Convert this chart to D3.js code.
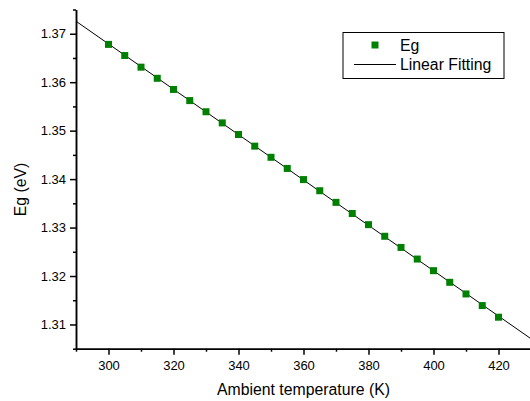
<!DOCTYPE html>
<meta charset="utf-8">
<script src="https://cdn.jsdelivr.net/npm/d3@7/dist/d3.min.js"></script>
<head>
<style>
    body { margin: 0; background: #fff; }
    text { font-family: "Liberation Sans", Arial, sans-serif; fill: #000; }
</style>
</head>
<body>
<script>

    // temperature (K) and band gap (eV)
    var temps = [300, 305, 310, 315, 320, 325, 330, 335, 340, 345, 350, 355, 360,
                 365, 370, 375, 380, 385, 390, 395, 400, 405, 410, 415, 420];
    var eg = [1.3678, 1.3655, 1.3631, 1.3608, 1.3585, 1.3562, 1.3539, 1.3516, 1.3492,
              1.3468, 1.3445, 1.3422, 1.3399, 1.3376, 1.3352, 1.3329, 1.3306, 1.3282,
              1.3259, 1.3235, 1.3211, 1.3187, 1.3163, 1.3139, 1.3115];

    var xMajor = [300, 320, 340, 360, 380, 400, 420];
    var xMinor = [290, 310, 330, 350, 370, 390, 410, 430];
    var yMajor = [1.31, 1.32, 1.33, 1.34, 1.35, 1.36, 1.37];
    var yMinor = [1.305, 1.315, 1.325, 1.335, 1.345, 1.355, 1.365, 1.375];

    var W = 530, H = 401;
    var pLeft = 76, pRight = 531, pTop = 9.5, pBottom = 348.7;

    var svg = d3.select("body").append("svg")
        .attr("width", W)
        .attr("height", H);

    var x = d3.scaleLinear().domain([290, 430]).range([pLeft, pRight]);
    var y = d3.scaleLinear().domain([1.305, 1.375]).range([pBottom, pTop]);

    svg.append("defs").append("clipPath")
        .attr("id", "plotClip")
        .append("rect")
        .attr("x", pLeft)
        .attr("y", pTop)
        .attr("width", pRight - pLeft)
        .attr("height", pBottom - pTop);

    // least squares fit of the data
    var mx = d3.mean(temps), my = d3.mean(eg);
    var sxy = 0, sxx = 0;
    temps.forEach(function(t, i) {
        sxy += (t - mx) * (eg[i] - my);
        sxx += (t - mx) * (t - mx);
    });
    var slope = sxy / sxx;
    var icpt = my - slope * mx;
    var fitT = x.domain();

    svg.append("g")
        .attr("clip-path", "url(#plotClip)")
        .append("line")
        .attr("x1", x(fitT[0]))
        .attr("y1", y(icpt + slope * fitT[0]))
        .attr("x2", x(fitT[1]))
        .attr("y2", y(icpt + slope * fitT[1]))
        .style("stroke", "#000")
        .style("stroke-width", 1);

    var sq = 7;
    svg.append("g").selectAll("rect")
        .data(temps)
        .enter()
        .append("rect")
        .attr("x", function(d) { return x(d) - sq / 2; })
        .attr("y", function(d, i) { return y(eg[i]) - sq / 2; })
        .attr("width", sq)
        .attr("height", sq)
        .style("fill", "#008000");

    // axes
    function styleAxis(g) {
        g.selectAll("path").style("stroke", "#000").style("stroke-width", 1.5);
        g.selectAll("line").style("stroke", "#000").style("stroke-width", 1.5);
        g.selectAll("text").style("font-size", "13px")
            .style("font-family", "'Liberation Sans', Arial, sans-serif");
    }

    var xAxisMinor = svg.append("g")
        .attr("transform", "translate(0," + pBottom + ")")
        .call(d3.axisBottom(x).tickValues(xMinor).tickSize(3).tickSizeOuter(0).tickFormat(""));
    styleAxis(xAxisMinor);

    var xAxis = svg.append("g")
        .attr("transform", "translate(0," + pBottom + ")")
        .call(d3.axisBottom(x).tickValues(xMajor).tickSize(6).tickSizeOuter(0)
              .tickPadding(6).tickFormat(d3.format("d")));
    styleAxis(xAxis);

    var yAxisMinor = svg.append("g")
        .attr("transform", "translate(" + pLeft + ",0)")
        .call(d3.axisLeft(y).tickValues(yMinor).tickSize(3).tickSizeOuter(0).tickFormat(""));
    styleAxis(yAxisMinor);

    var yAxis = svg.append("g")
        .attr("transform", "translate(" + pLeft + ",0)")
        .call(d3.axisLeft(y).tickValues(yMajor).tickSize(6).tickSizeOuter(0)
              .tickPadding(4).tickFormat(d3.format(".2f")));
    styleAxis(yAxis);

    // titles
    svg.append("text")
        .attr("x", (pLeft + pRight) / 2)
        .attr("y", 395)
        .attr("text-anchor", "middle")
        .style("font-size", "15.8px")
        .text("Ambient temperature (K)");

    svg.append("text")
        .attr("transform", "translate(26," + 189.5 + ") rotate(-90)")
        .attr("text-anchor", "middle")
        .style("font-size", "15.8px")
        .text("Eg (eV)");

    // legend
    var lg = svg.append("g");
    lg.append("rect")
        .attr("x", 343)
        .attr("y", 32.5)
        .attr("width", 161)
        .attr("height", 46)
        .style("fill", "#fff")
        .style("stroke", "#000")
        .style("stroke-width", 1);
    lg.append("rect")
        .attr("x", 375 - 3.5)
        .attr("y", 45 - 3.5)
        .attr("width", 7)
        .attr("height", 7)
        .style("fill", "#008000");
    lg.append("line")
        .attr("x1", 354)
        .attr("x2", 396)
        .attr("y1", 64.5)
        .attr("y2", 64.5)
        .style("stroke", "#000")
        .style("stroke-width", 1);
    lg.append("text")
        .attr("x", 400)
        .attr("y", 50.5)
        .style("font-size", "15.8px")
        .text("Eg");
    lg.append("text")
        .attr("x", 400)
        .attr("y", 70)
        .style("font-size", "15.8px")
        .text("Linear Fitting");

</script>
</body>
</html>
